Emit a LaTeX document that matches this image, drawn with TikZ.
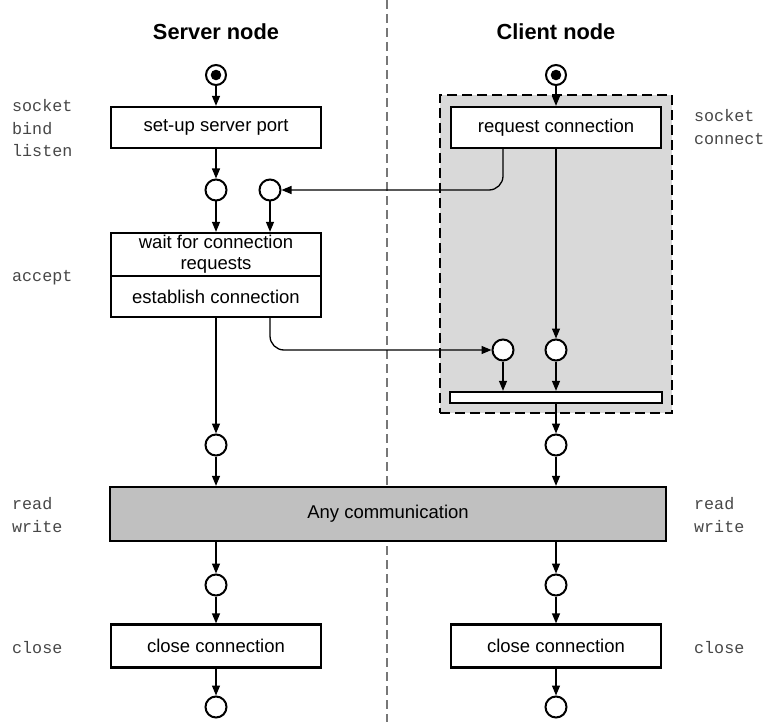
\documentclass[tikz,border=0pt]{standalone}
\usepackage{fontspec}
\setmainfont{Liberation Sans}
\setmonofont{Liberation Mono}
\usetikzlibrary{arrows.meta}
\definecolor{regiongray}{HTML}{D9D9D9}
\definecolor{commgray}{HTML}{C0C0C0}
\definecolor{divgray}{HTML}{777777}
\begin{document}
\begin{tikzpicture}[x=1pt,y=-1pt,
  box/.style={draw,line width=2.3pt,fill=white,minimum width=210pt,minimum height=41pt,inner sep=0pt,font=\fontsize{18.5}{21}\selectfont,align=center},
  place/.style={draw,circle,line width=2pt,fill=white,minimum size=21pt,inner sep=0pt},
  startp/.style={draw,circle,line width=2pt,fill=white,minimum size=20pt,inner sep=0pt,path picture={\fill[black] (path picture bounding box.center) circle (5.3pt);}},
  conn/.style={-{Triangle[length=10pt,width=8pt]},line width=1.3pt},
  cmd/.style={font=\fontsize{16.7}{22.5}\selectfont\ttfamily,text=black!72,align=left,anchor=west,inner sep=0pt},
  coltitle/.style={font=\fontsize{21.8}{26}\selectfont\bfseries},
  region/.style={draw,dashed,dash pattern=on 10pt off 5pt,line width=1.5pt,fill=regiongray,minimum width=232pt,minimum height=318pt,inner sep=0pt},
  divider/.style={draw=divgray,line width=1.5pt,dash pattern=on 9pt off 5pt}
]
\useasboundingbox (0,0) rectangle (768,722);
% divider
\coordinate (dtop) at (387,0);
\coordinate (dbot) at (387,722);
\draw[divider] (dtop) -- (dbot);
% client region
\node[region] (area) at (556,254) {};
% titles
\node[coltitle] (tserver) at (216,32) {Server node};
\node[coltitle] (tclient) at (556,32) {Client node};
% side labels
\node[cmd] (lsock) at (12,128.5) {socket\\bind\\listen};
\node[cmd] (lacc) at (12,278) {accept};
\node[cmd] (lrw) at (12,515) {read\\write};
\node[cmd] (lclose) at (12,648) {close};
\node[cmd] (rsock) at (694,127) {socket\\connect};
\node[cmd] (rrw) at (694,515) {read\\write};
\node[cmd] (rclose) at (694,648) {close};
% server column
\node[startp] (sstart) at (216,75) {};
\node[box] (setup) at (216,127.5) {set-up server port};
\node[place] (s1) at (216,190) {};
\node[place] (s2) at (270,190) {};
\node[box,minimum height=43pt] (wait) at (216,254.5) {wait for connection\\requests};
\node[box] (establish) at (216,296.5) {establish connection};
\node[place] (s3) at (216,445) {};
\node[place] (s4) at (216,585) {};
\node[box,minimum height=43pt] (sclose) at (216,646) {close connection};
\node[place] (s5) at (216,707) {};
% client column
\node[startp] (cstart) at (556,75) {};
\node[box] (request) at (556,127.5) {request connection};
\node[place] (c1) at (503,350) {};
\node[place] (c2) at (556,350) {};
\node[box,minimum width=212pt,minimum height=11pt] (bar) at (556,397.5) {};
\node[place] (c3) at (556,445) {};
\node[place] (c4) at (556,585) {};
\node[box,minimum height=43pt] (cclose) at (556,646) {close connection};
\node[place] (c5) at (556,707) {};
% shared communication box
\node[box,fill=commgray,minimum width=556pt,minimum height=54pt] (comm) at (388,514) {Any communication};
% connectors server
\draw[conn] (sstart) -- (setup);
\draw[conn] (setup) -- (s1);
\draw[conn] (s1) -- (s1 |- wait.north);
\draw[conn] (s2) -- (s2 |- wait.north);
\draw[conn] (establish) -- (s3);
\draw[conn] (s3) -- (s3 |- comm.north);
\draw[conn] (s4 |- comm.south) -- (s4);
\draw[conn] (s4) -- (sclose);
\draw[conn] (sclose) -- (s5);
% connectors client
\draw[conn] (cstart) -- (request);
\draw[conn, rounded corners=14pt] (c1 |- request.south) -- (c1 |- s2) -- (s2);
\draw[conn] (request) -- (c2);
\draw[conn, rounded corners=14pt] (s2 |- establish.south) -- (s2 |- c1) -- (c1);
\draw[conn] (c1) -- (c1 |- bar.north);
\draw[conn] (c2) -- (c2 |- bar.north);
\draw[conn] (bar) -- (c3);
\draw[conn] (c3) -- (c3 |- comm.north);
\draw[conn] (c4 |- comm.south) -- (c4);
\draw[conn] (c4) -- (cclose);
\draw[conn] (cclose) -- (c5);
\end{tikzpicture}
\end{document}
